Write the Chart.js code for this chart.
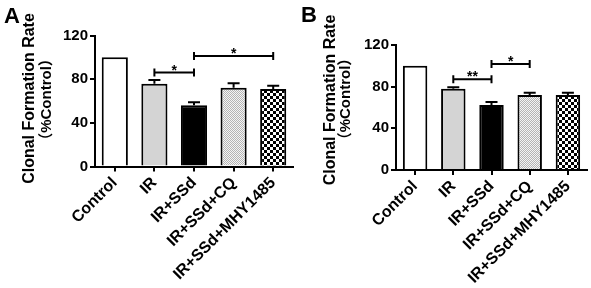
<!DOCTYPE html>
<html><head><meta charset="utf-8">
<script src="https://cdn.jsdelivr.net/npm/chart.js@4"></script>
<style>
html,body{margin:0;padding:0;background:#fff;}
#wrap{position:relative;width:591px;height:288px;background:#fff;}
canvas{position:absolute;top:0;}
</style></head><body>
<div id="wrap">
<canvas id="cA" width="295" height="288" style="left:0"></canvas>
<canvas id="cB" width="296" height="288" style="left:295px"></canvas>
</div>
<script>
const categories = ['Control', 'IR', 'IR+SSd', 'IR+SSd+CQ', 'IR+SSd+MHY1485'];
const yTicks = [0, 40, 80, 120];
const yTitle = ['Clonal Formation Rate', '（%Control）'];

const valuesA = [100, 75.8, 56.1, 72.2, 71.0];
const errorsA = [0, 3.4, 2.8, 4.0, 3.0];
const valuesB = [100, 78.0, 62.4, 72.0, 72.0];
const errorsB = [0, 1.4, 2.9, 2.2, 2.2];

const sigFromA = [1, 2];
const sigToA = [2, 4];
const sigLevelA = [86.0, 101.2];
const sigLabelA = ['*', '*'];

const sigFromB = [1, 2];
const sigToB = [2, 3];
const sigLevelB = [87.1, 101.8];
const sigLabelB = ['**', '*'];

const FONT = '"Liberation Sans", Arial, "Noto Sans CJK SC", sans-serif';

function makePattern(ctx, kind) {
  const c = document.createElement('canvas');
  const g = c.getContext('2d');
  if (kind === 'dots') {
    c.width = 2; c.height = 2;
    g.fillStyle = '#f4f4f4'; g.fillRect(0, 0, 2, 2);
    g.fillStyle = '#b4b4b4'; g.fillRect(0, 0, 1, 1); g.fillRect(1, 1, 1, 1);
  } else {
    c.width = 6; c.height = 6;
    g.fillStyle = '#ffffff'; g.fillRect(0, 0, 6, 6);
    g.fillStyle = '#000000'; g.fillRect(0, 0, 3, 3); g.fillRect(3, 3, 3, 3);
  }
  return ctx.createPattern(c, 'repeat');
}

function build(id, values, errors, sf, st, sl, slab, geom) {
  const canvas = document.getElementById(id);
  const ctx = canvas.getContext('2d');
  const fills = ['#ffffff', '#d4d4d4', '#000000', makePattern(ctx, 'dots'), makePattern(ctx, 'check')];
  const overlay = {
    id: 'overlay',
    afterDatasetsDraw(chart) {
      const c = chart.ctx, y = chart.scales.y, x = chart.scales.x;
      const meta = chart.getDatasetMeta(0);
      c.save();
      c.strokeStyle = '#000'; c.fillStyle = '#000'; c.lineWidth = 2;
      meta.data.forEach((bar, i) => {
        if (!errors[i]) return;
        const yt = y.getPixelForValue(values[i] + errors[i]);
        const yb = y.getPixelForValue(values[i]);
        c.beginPath();
        c.moveTo(bar.x, yb); c.lineTo(bar.x, yt);
        c.moveTo(bar.x - geom.cap / 2, yt); c.lineTo(bar.x + geom.cap / 2, yt);
        c.stroke();
      });
      c.font = 'bold 14px ' + FONT; c.textAlign = 'center'; c.textBaseline = 'alphabetic';
      sf.forEach((f, k) => {
        const x1 = x.getPixelForValue(f), x2 = x.getPixelForValue(st[k]), yy = y.getPixelForValue(sl[k]);
        c.beginPath();
        c.moveTo(x1, yy); c.lineTo(x2, yy);
        c.moveTo(x1, yy - 4); c.lineTo(x1, yy + 4);
        c.moveTo(x2, yy - 4); c.lineTo(x2, yy + 4);
        c.stroke();
        c.fillText(slab[k], (x1 + x2) / 2, yy + 2);
      });
      // panel letter
      c.font = 'bold 22px ' + FONT; c.textAlign = 'left';
      c.fillText(geom.panel, geom.px, geom.py);
      // y-axis title (two lines, rotated)
      c.textAlign = 'center'; c.textBaseline = 'middle';
      [[yTitle[0], 16, geom.t1x, geom.t1y], [yTitle[1], 15, geom.t2x, geom.t2y]].forEach(([txt, sz, tx, ty]) => {
        c.save();
        c.translate(tx, ty);
        c.rotate(-Math.PI / 2);
        c.font = 'bold ' + sz + 'px ' + FONT;
        c.fillText(txt, 0, 0);
        c.restore();
      });
      c.restore();
    }
  };
  return new Chart(ctx, {
    type: 'bar',
    data: {
      labels: categories,
      datasets: [{
        data: values, backgroundColor: fills, borderColor: '#000', borderWidth: 2,
        barPercentage: geom.bp, categoryPercentage: 1
      }]
    },
    options: {
      responsive: false, animation: false, devicePixelRatio: 1,
      layout: { padding: { left: 0, right: geom.right, top: geom.top, bottom: 0 } },
      plugins: { legend: { display: false }, tooltip: { enabled: false } },
      scales: {
        x: {
          type: 'category', offset: true,
          grid: { offset: false, drawOnChartArea: false, drawTicks: true, tickLength: 5, color: '#000', lineWidth: 2 },
          border: { display: true, color: '#000', width: 2 },
          ticks: { color: '#000', font: { family: FONT, size: 16, weight: 'bold' }, maxRotation: 45, minRotation: 45, autoSkip: false, padding: 2 },
          afterFit(s) { s.height = geom.xh; }
        },
        y: {
          min: 0, max: 120,
          afterBuildTicks(s) { s.ticks = yTicks.map(v => ({ value: v })); },
          grid: { drawOnChartArea: false, drawTicks: true, tickLength: 5, color: '#000', lineWidth: 2 },
          border: { display: true, color: '#000', width: 2 },
          ticks: { color: '#000', font: { family: FONT, size: 15, weight: 'bold' }, padding: 2 },
          afterFit(s) { s.width = geom.yw; }
        }
      }
    },
    plugins: [overlay]
  });
}

build('cA', valuesA, errorsA, sigFromA, sigToA, sigLevelA, sigLabelA,
  { right: 2, top: 35.5, xh: 121.5, yw: 95, bp: 0.66, cap: 12, panel: 'A', px: 4, py: 23,
    t1x: 29.5, t1y: 98.5, t2x: 46.5, t2y: 99.5 });
build('cB', valuesB, errorsB, sigFromB, sigToB, sigLevelB, sigLabelB,
  { right: 4, top: 45, xh: 118, yw: 101, bp: 0.64, cap: 12, panel: 'B', px: 6, py: 22,
    t1x: 36, t1y: 100, t2x: 51, t2y: 99 });
</script>
</body></html>
